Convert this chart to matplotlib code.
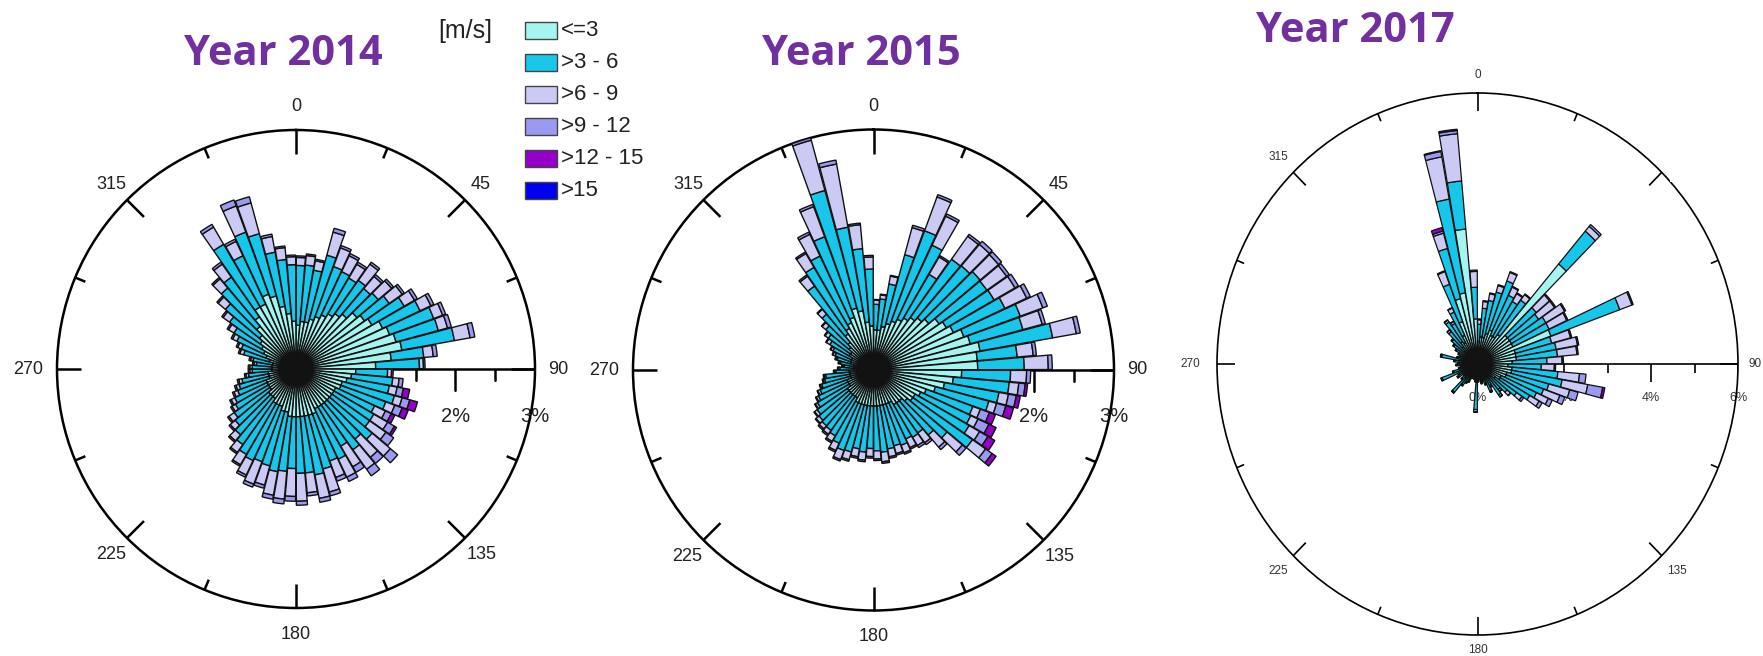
import numpy as np
import matplotlib.pyplot as plt
from matplotlib.patches import Rectangle
from matplotlib.markers import TICKDOWN

W, H = 1763, 656
plt.rcParams['font.family'] = ['Liberation Sans', 'DejaVu Sans']

# 5 degree direction sectors (centre of each sector)
directions = np.arange(2.5, 360, 5)

speed_classes = ['<=3', '>3 - 6', '>6 - 9', '>9 - 12', '>12 - 15', '>15']
class_colors = ['#A6F4EF', '#17C6E9', '#CACAF4', '#9A9AF0', '#9400C8', '#0000F0']

y2014_c1 = [0.55, 0.6, 0.6, 0.65, 0.7, 0.75, 0.8, 0.85, 0.9, 1.0,
            1.05, 1.1, 1.2, 1.25, 1.3, 1.35, 1.2, 1.0, 0.75, 0.7,
            0.65, 0.6, 0.6, 0.55, 0.55, 0.55, 0.55, 0.55, 0.55, 0.55,
            0.55, 0.6, 0.6, 0.6, 0.6, 0.6, 0.6, 0.6, 0.55, 0.55,
            0.5, 0.5, 0.5, 0.45, 0.45, 0.45, 0.4, 0.4, 0.4, 0.4,
            0.35, 0.35, 0.35, 0.3, 0.3, 0.3, 0.3, 0.35, 0.4, 0.45,
            0.5, 0.55, 0.6, 0.7, 0.8, 0.9, 0.9, 1.0, 0.95, 0.8,
            0.7, 0.6]
y2014_c2 = [0.75, 0.71, 0.66, 0.83, 0.67, 0.60, 0.52, 0.51, 0.42, 0.35,
            0.38, 0.47, 0.52, 0.59, 0.55, 0.67, 0.41, 0.55, 0.40, 0.52,
            0.54, 0.68, 0.60, 0.54, 0.58, 0.58, 0.70, 0.60, 0.69, 0.57,
            0.70, 0.63, 0.70, 0.75, 0.71, 0.71, 0.65, 0.69, 0.76, 0.71,
            0.74, 0.77, 0.74, 0.71, 0.63, 0.55, 0.55, 0.48, 0.45, 0.38,
            0.39, 0.34, 0.25, 0.25, 0.25, 0.20, 0.25, 0.33, 0.33, 0.37,
            0.40, 0.47, 0.56, 0.63, 0.61, 0.91, 0.67, 0.83, 0.81, 0.69,
            0.68, 0.71]
y2014_c3 = [0.1, 0.12, 0.12, 0.3, 0.25, 0.22, 0.2, 0.25, 0.2, 0.22,
            0.2, 0.15, 0.15, 0.12, 0.12, 0.2, 0.12, 0.05, 0.05, 0.08,
            0.1, 0.1, 0.12, 0.15, 0.2, 0.25, 0.3, 0.3, 0.3, 0.3,
            0.25, 0.22, 0.3, 0.3, 0.25, 0.35, 0.35, 0.35, 0.3, 0.25,
            0.3, 0.2, 0.15, 0.12, 0.1, 0.08, 0.08, 0.05, 0.05, 0.05,
            0.04, 0.04, 0.03, 0.03, 0.03, 0.03, 0.03, 0.05, 0.05, 0.06,
            0.08, 0.1, 0.12, 0.15, 0.2, 0.25, 0.2, 0.35, 0.4, 0.2,
            0.15, 0.1]
y2014_c4 = [0.02, 0.02, 0.02, 0.05, 0.03, 0.03, 0.03, 0.03, 0.03, 0.03,
            0.03, 0.04, 0.04, 0.04, 0.05, 0.06, 0.05, 0.02, 0.02, 0.05,
            0.08, 0.1, 0.1, 0.08, 0.1, 0.12, 0.12, 0.1, 0.1, 0.08,
            0.06, 0.05, 0.05, 0.05, 0.04, 0.05, 0.06, 0.06, 0.05, 0.04,
            0.04, 0.03] + [0.02] * 22 + [0.03, 0.04, 0.03, 0.08, 0.08, 0.03, 0.02, 0.02]
y2014_c5 = [0] * 20 + [0.08, 0.1, 0.08, 0.05, 0.03] + [0] * 47

y2015_c1 = [0.5, 0.5, 0.55, 0.6, 0.65, 0.7, 0.75, 0.8, 0.85, 0.9,
            1.0, 1.05, 1.1, 1.2, 1.25, 1.35, 1.3, 1.3, 1.1, 1.0,
            0.9, 0.8, 0.7, 0.65, 0.6, 0.6, 0.55, 0.5, 0.5, 0.5,
            0.45, 0.45, 0.45, 0.45, 0.45, 0.45, 0.45, 0.45, 0.45, 0.45,
            0.45, 0.45, 0.4, 0.4, 0.4, 0.4, 0.4, 0.35, 0.35, 0.35,
            0.3, 0.3, 0.3, 0.3, 0.25, 0.25, 0.25, 0.3, 0.3, 0.3,
            0.35, 0.35, 0.4, 0.45, 0.55, 0.6, 0.65, 0.7, 0.8, 0.75,
            0.6, 0.55]
y2015_c2 = [0.32, 0.39, 0.54, 0.89, 1.20, 1.02, 0.63, 0.89, 0.85, 0.84,
            0.73, 0.69, 0.71, 0.75, 0.68, 0.92, 0.50, 0.58, 0.61, 0.70,
            0.69, 0.69, 0.62, 0.69, 0.78, 0.91, 0.65, 0.56, 0.46, 0.47,
            0.50, 0.55, 0.53, 0.55, 0.58, 0.56, 0.53, 0.58, 0.55, 0.61,
            0.62, 0.56, 0.55, 0.52, 0.51, 0.49, 0.46, 0.46, 0.41, 0.36,
            0.37, 0.32, 0.30, 0.17, 0.17, 0.12, 0.17, 0.17, 0.21, 0.26,
            0.28, 0.34, 0.38, 0.46, 0.73, 0.88, 0.92, 1.07, 1.52, 1.06,
            0.92, 0.71]
y2015_c3 = [0.05, 0.05, 0.1, 0.35, 0.45, 0.4, 0.25, 0.35, 0.35, 0.3,
            0.3, 0.3, 0.3, 0.3, 0.25, 0.3, 0.2, 0.3, 0.2, 0.12,
            0.12, 0.1, 0.1, 0.1, 0.15, 0.2, 0.25, 0.2, 0.15, 0.12,
            0.12, 0.1, 0.1, 0.1, 0.12, 0.1, 0.1, 0.1, 0.1, 0.1,
            0.12, 0.1, 0.08, 0.06, 0.05, 0.05, 0.04, 0.03, 0.03, 0.03,
            0.02, 0.02, 0.02, 0.02, 0.02, 0.02, 0.02, 0.02, 0.03, 0.03,
            0.05, 0.05, 0.06, 0.08, 0.15, 0.2, 0.3, 0.4, 0.65, 0.8,
            0.3, 0.15]
y2015_c4 = [0.01, 0.01, 0.01, 0.03, 0.03, 0.03, 0.02, 0.03, 0.05, 0.05,
            0.04, 0.05, 0.05, 0.06, 0.04, 0.05, 0.04, 0.05, 0.05, 0.08,
            0.1, 0.12, 0.12, 0.15, 0.12, 0.1, 0.06, 0.04, 0.03, 0.03] \
    + [0.02] * 15 + [0.01] * 19 + [0.02, 0.02, 0.03, 0.03, 0.03, 0.05, 0.02, 0.02]
y2015_c5 = [0] * 19 + [0.03, 0.05, 0.1, 0.08, 0.1, 0.1, 0.06] + [0] * 46

y2017_c1 = [0.5, 0.6, 0.6, 0.7, 0.8, 0.7, 0.7, 0.8, 2.9, 0.9,
            0.9, 0.9, 0.9, 1.8, 0.9, 0.9, 0.9, 0.8, 0.7, 0.8,
            0.8, 0.7, 0.7, 0.6, 0.6, 0.5, 0.4, 0.35, 0.4, 0.3,
            0.3, 0.25, 0.2, 0.2, 0.2, 0.2, 0.4, 0.2, 0.2, 0.15,
            0.2, 0.2, 0.25, 0.3, 0.4, 0.25, 0.2, 0.25, 0.25, 0.4,
            0.3, 0.2, 0.2, 0.25, 0.2, 0.25, 0.4, 0.25, 0.2, 0.25,
            0.3, 0.35, 0.4, 0.5, 0.6, 0.55, 0.7, 1.0, 1.5, 1.6,
            3.0, 1.0]
y2017_c2 = [0.38, 0.64, 0.83, 0.95, 1.16, 0.98, 0.90, 0.93, 0.95, 0.87,
            0.82, 0.92, 0.92, 1.69, 0.87, 0.94, 0.95, 0.80, 0.77, 1.06,
            1.18, 1.00, 0.92, 0.90, 0.79, 0.60, 0.49, 0.39, 0.44, 0.26,
            0.36, 0.21, 0.16, 0.21, 0.11, 0.16, 0.61, 0.17, 0.12, 0.12,
            0.12, 0.22, 0.22, 0.27, 0.42, 0.22, 0.17, 0.27, 0.22, 0.47,
            0.27, 0.22, 0.17, 0.22, 0.22, 0.27, 0.44, 0.22, 0.22, 0.22,
            0.27, 0.32, 0.37, 0.44, 0.54, 0.49, 0.57, 0.88, 1.15, 2.11,
            1.07, 0.70]
y2017_c3 = [0.1, 0.15, 0.15, 0.15, 0.2, 0.2, 0.2, 0.15, 0.14, 0.4,
            0.45, 0.5, 0.45, 0.3, 0.45, 0.5, 0.45, 0.35, 0.3, 0.5,
            0.6, 0.5, 0.4, 0.3, 0.25, 0.15, 0.1, 0.05, 0.05, 0.03,
            0.03, 0.03, 0.03, 0.03, 0.03, 0.03, 0.05] + [0.02] * 26 \
    + [0.05, 0.05, 0.05, 0.1, 0.3, 0.35, 0.95, 1.05, 0.35]
y2017_c4 = [0.02] * 8 + [0.05] + [0.03] * 10 + [0.15, 0.35, 0.2, 0.12, 0.1, 0.08, 0.05] \
    + [0.01] * 41 + [0.02, 0.05, 0.12, 0.07, 0.03]
y2017_c5 = [0] * 20 + [0.05] + [0] * 47 + [0.08, 0.02, 0.03, 0]

fig = plt.figure(figsize=(W / 100, H / 100), dpi=100)
fig.patch.set_facecolor('white')


def rose_axes(cx, cy, rx, ry, rmax, frame_lw):
    # axes box placed by pixel centre / radii of the printed rose
    ax = fig.add_axes([(cx - rx) / W, 1 - (cy + ry) / H, 2 * rx / W, 2 * ry / H],
                      projection='polar')
    ax.set_aspect('auto')
    ax.set_theta_zero_location('N')
    ax.set_theta_direction(-1)
    ax.set_ylim(0, rmax)
    ax.set_xticks([])
    ax.set_yticks([])
    ax.grid(False)
    ax.spines['polar'].set_linewidth(frame_lw)
    return ax


def draw_bars(ax, stacks, lw=1.0):
    theta = np.deg2rad(directions)
    base = np.zeros(len(directions))
    for vals, col in zip(stacks, class_colors):
        vals = np.asarray(vals, dtype=float)
        keep = vals > 0
        ax.bar(theta[keep], vals[keep], width=np.deg2rad(5) * 0.94, bottom=base[keep],
               color=col, edgecolor='#111111', linewidth=lw, zorder=3)
        base = base + vals


def draw_frame(ax, rmax, r_px, lw, major_px, minor_px):
    for a in range(0, 360, 45):
        t = np.deg2rad(a)
        ax.plot([t, t], [rmax * (1 - major_px / r_px), rmax], color='black', lw=lw,
                solid_capstyle='butt', zorder=2, clip_on=False)
        t2 = np.deg2rad(a + 22.5)
        ax.plot([t2, t2], [rmax * (1 - minor_px / r_px), rmax], color='black', lw=lw,
                solid_capstyle='butt', zorder=2, clip_on=False)
    # radial scale along 90 deg
    ax.plot([np.pi / 2, np.pi / 2], [0, rmax], color='black', lw=lw, zorder=2)


def draw_dir_labels(ax, rmax, labels, size, color):
    for ang, txt, rf, ha in labels:
        ax.text(np.deg2rad(ang), rmax * rf, txt, ha=ha, va='center', fontsize=size,
                color=color, zorder=1)


def draw_pct(ax, ticks, labels, lw, drop_px, size, color):
    for r, length in ticks:
        ax.plot([np.pi / 2], [r], ls='none', marker=TICKDOWN, ms=length * 0.72,
                mew=lw, color='black', zorder=2)
    for r, txt in labels:
        ax.annotate(txt, xy=(np.pi / 2, r), xytext=(0, -drop_px * 0.72),
                    textcoords='offset points', ha='center', va='center',
                    fontsize=size, color=color, zorder=1, annotation_clip=False)


big_labels = [(0, '0', 1.097, 'center'), (45, '45', 1.09, 'center'),
              (90, '90', 1.055, 'left'), (135, '135', 1.096, 'center'),
              (180, '180', 1.11, 'center'), (225, '225', 1.096, 'center'),
              (270, '270', 1.057, 'right'), (315, '315', 1.09, 'center')]
big_ticks = [(0.5, 12), (1.0, 22), (1.5, 12), (2.0, 22), (2.5, 12), (3.0, 22)]

# --- 2014 ---
ax1 = rose_axes(296, 369, 239, 239, 3.0, 1.8)
draw_frame(ax1, 3.0, 239, 1.8, 24, 11)
draw_pct(ax1, big_ticks, [(2.0, '2%'), (3.0, '3%')], 1.8, 47, 14.5, '#222222')
draw_bars(ax1, [y2014_c1, y2014_c2, y2014_c3, y2014_c4, y2014_c5], lw=1.0)
draw_dir_labels(ax1, 3.0, big_labels, 13, '#222222')

# --- 2015 ---
ax2 = rose_axes(873.5, 370, 240.5, 240.5, 3.0, 1.8)
draw_frame(ax2, 3.0, 240.5, 1.8, 24, 11)
draw_pct(ax2, big_ticks, [(2.0, '2%'), (3.0, '3%')], 1.8, 47, 14.5, '#222222')
draw_bars(ax2, [y2015_c1, y2015_c2, y2015_c3, y2015_c4, y2015_c5], lw=1.0)
draw_dir_labels(ax2, 3.0, big_labels, 13, '#222222')

# --- 2017 ---
small_labels = [(0, '0', 1.066, 'center'), (45, '45', 1.08, 'center'),
                (90, '90', 1.04, 'left'), (135, '135', 1.08, 'center'),
                (180, '180', 1.055, 'center'), (225, '225', 1.08, 'center'),
                (270, '270', 1.063, 'right'), (315, '315', 1.08, 'center')]
ax3 = rose_axes(1477.5, 364, 260.5, 271, 6.0, 1.2)
draw_frame(ax3, 6.0, 265, 1.2, 18, 8)
draw_pct(ax3, [(1, 9), (2, 18), (3, 9), (4, 18), (5, 9), (6, 18)],
         [(0, '0%'), (2, '2%'), (4, '4%'), (6, '6%')], 1.2, 34, 9, '#333333')
draw_bars(ax3, [y2017_c1, y2017_c2, y2017_c3, y2017_c4, y2017_c5], lw=0.9)
draw_dir_labels(ax3, 6.0, small_labels, 8.5, '#333333')

# white patch over the corner of the 2017 picture (cuts the "45")
fig.add_artist(Rectangle((1670 / W, 1 - 182 / H), 93 / W, 182 / H,
                         transform=fig.transFigure, facecolor='white',
                         edgecolor='none', zorder=10))

# titles
for x, y, txt in [(283, 65, 'Year 2014'), (861, 65, 'Year 2015'), (1355, 42, 'Year 2017')]:
    fig.text(x / W, 1 - y / H, txt, ha='center', va='baseline', fontsize=30,
             fontweight='bold', color='#7030A0', family=['Open Sans', 'DejaVu Sans'])

# legend
fig.text(438 / W, 1 - 31 / H, '[m/s]', ha='left', va='center', fontsize=18, color='#222222')
for k, (lab, col) in enumerate(zip(speed_classes, class_colors)):
    top = 22 + 32 * k
    fig.add_artist(Rectangle((525 / W, 1 - (top + 17) / H), 32 / W, 17 / H,
                             transform=fig.transFigure, facecolor=col,
                             edgecolor='#444444', lw=1.0, zorder=5))
    fig.text(561 / W, 1 - (top + 8.5) / H, lab, ha='left', va='center',
             fontsize=16, color='#222222')

fig.savefig('out.png', dpi=100)
